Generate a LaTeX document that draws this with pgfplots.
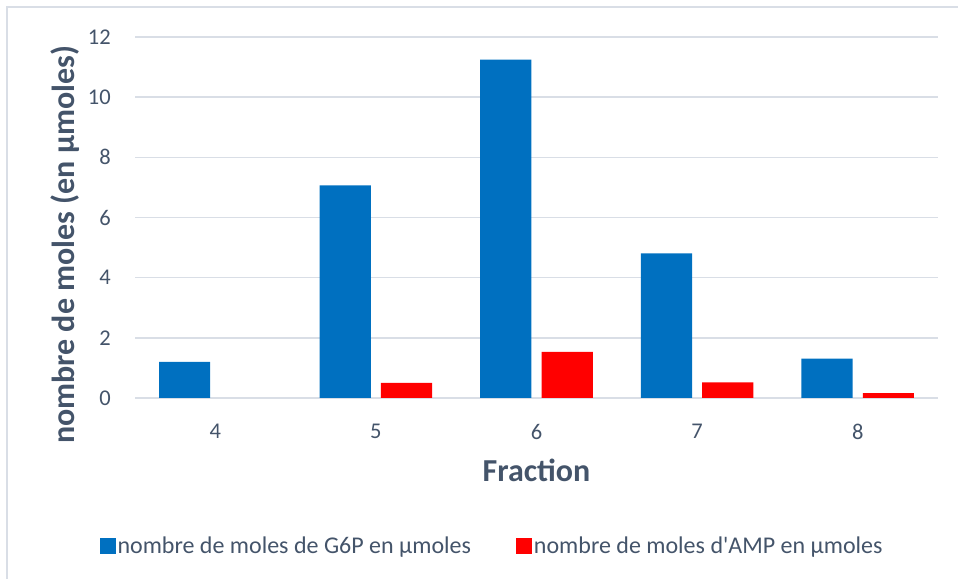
\documentclass[border=0pt]{standalone}
\usepackage{pgfplots}
\pgfplotsset{compat=1.18}
\usepackage{fontspec}
\setmainfont{Carlito}
\definecolor{txt}{RGB}{68,84,106}
\definecolor{grd}{RGB}{217,222,230}
\definecolor{xblue}{RGB}{0,112,192}
\definecolor{xred}{RGB}{255,0,0}
\begin{document}
\begin{tikzpicture}
\path[use as bounding box] (0bp,0bp) rectangle (958bp,579bp);
\draw[grd, line width=2bp] (7bp,0bp) -- (7bp,572bp) -- (958bp,572bp);
\begin{axis}[
  at={(135bp,181bp)}, anchor=south west, scale only axis,
  width=803bp, height=361bp,
  xmin=-0.5, xmax=4.5, ymin=0, ymax=12,
  ybar, bar width=0.319,
  xtick={0,1,2,3,4}, xticklabels={4,5,6,7,8},
  ytick={0,2,4,6,8,10,12},
  major tick length=0pt,
  axis line style={draw=none},
  ymajorgrids, grid style={grd, line width=1.5bp},
  /pgf/number format/assume math mode=true,
  tick label style={font=\fontsize{22.5bp}{26bp}\selectfont, text=txt},
  yticklabel style={anchor=east, inner sep=0pt, xshift=-24bp},
  xticklabel style={anchor=north, inner sep=0pt, yshift=-26bp},
  xlabel={Fraction},
  ylabel={nombre de moles (en µmoles)},
  label style={font=\fontsize{32bp}{36bp}\selectfont\bfseries, text=txt},
  xlabel style={at={(axis description cs:0.5,-0.1994)}, anchor=center},
  ylabel style={at={(axis description cs:-0.0872,0.424)}, anchor=center},
  legend columns=2,
  legend image code/.code={\fill[#1] (0bp,-8bp) rectangle (16bp,8bp);},
  legend style={at={(axis description cs:0.4446,-0.41)}, anchor=center,
    draw=none, fill=none, font=\fontsize{24bp}{28bp}\selectfont,
    nodes={inner sep=2bp, text=txt},
    /tikz/every even column/.append style={column sep=43bp}},
]
\addplot[fill=xblue, draw=none, bar shift=-0.191] coordinates {(0,1.2) (1,7.07) (2,11.25) (3,4.81) (4,1.31)};
\addplot[fill=xred, draw=none, bar shift=0.191] coordinates {(1,0.5) (2,1.53) (3,0.52) (4,0.16)};
\legend{nombre de moles de G6P en µmoles, nombre de moles d\textquotesingle AMP en µmoles}
\end{axis}
\end{tikzpicture}
\end{document}
